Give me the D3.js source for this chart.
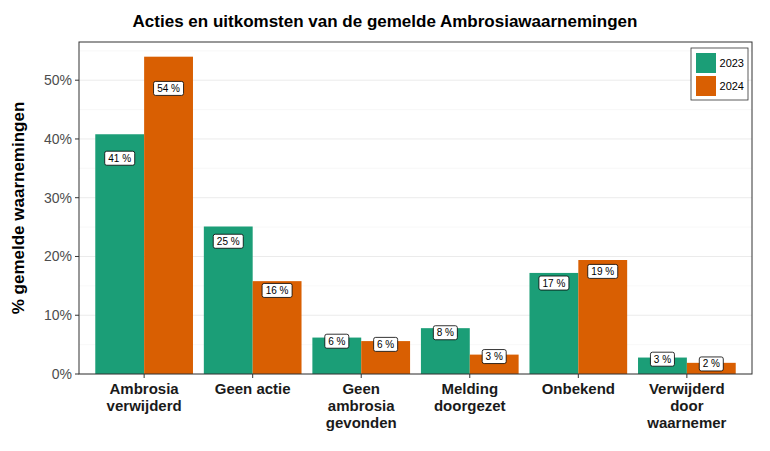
<!DOCTYPE html><html><head><meta charset="utf-8">
<script src="https://cdn.jsdelivr.net/npm/d3@7"></script>
<style>body{margin:0;background:#fff}text{font-family:Arial,"Liberation Sans",sans-serif}</style></head><body>
<svg id="c" width="770" height="451"></svg>
<script>
const categories=[["Ambrosia","verwijderd"],["Geen actie"],["Geen","ambrosia","gevonden"],["Melding","doorgezet"],["Onbekend"],["Verwijderd","door","waarnemer"]];
const years=["2023","2024"];
const v2023=[40.8,25.1,6.2,7.8,17.2,2.8];
const v2024=[54.0,15.8,5.6,3.3,19.4,1.9];
const labels2023=["41 %","25 %","6 %","8 %","17 %","3 %"];
const labels2024=["54 %","16 %","6 %","3 %","19 %","2 %"];
const yTicks=[0,10,20,30,40,50];
const colors=["#1b9e77","#d95f02"];
const svg=d3.select("#c");
const L=79,R=752,T=42,B=374;
const y=d3.scaleLinear().domain([0,56.5]).range([B,T]);
const unit=(R-L)/6.2;
const xc=i=>L+unit*(0.6+i);
svg.append("rect").attr("x",L).attr("y",T).attr("width",R-L).attr("height",B-T).attr("fill","#fff");
yTicks.forEach(t=>{svg.append("line").attr("x1",L).attr("x2",R).attr("y1",y(t)).attr("y2",y(t)).attr("stroke","#ebebeb").attr("stroke-width",1);
 svg.append("line").attr("x1",L).attr("x2",R).attr("y1",y(t+5)).attr("y2",y(t+5)).attr("stroke","#f4f4f4").attr("stroke-width",0.6);});
const series=[v2023,v2024],labs=[labels2023,labels2024];
const bw=unit*0.45;
series.forEach((s,k)=>s.forEach((v,i)=>{
 const x0=xc(i)-bw+k*bw;
 svg.append("rect").attr("x",x0).attr("y",y(v)).attr("width",bw).attr("height",B-y(v)).attr("fill",colors[k]);
}));
series.forEach((s,k)=>s.forEach((v,i)=>{
 const cx=xc(i)-bw/2+k*bw,cy=y(v*0.9);
 const t=labs[k][i],w=t.length*6+6;
 svg.append("rect").attr("x",cx-w/2).attr("y",cy-7).attr("width",w).attr("height",14).attr("rx",2).attr("fill","#fff").attr("stroke","#000").attr("stroke-width",0.8);
 svg.append("text").attr("x",cx).attr("y",cy+3.5).attr("text-anchor","middle").attr("font-size",10).text(t);
}));
svg.append("rect").attr("x",L).attr("y",T).attr("width",R-L).attr("height",B-T).attr("fill","none").attr("stroke","#333").attr("stroke-width",1);
yTicks.forEach(t=>{svg.append("line").attr("x1",L-4).attr("x2",L).attr("y1",y(t)).attr("y2",y(t)).attr("stroke","#333");
 svg.append("text").attr("x",L-7).attr("y",y(t)+5).attr("text-anchor","end").attr("font-size",14).attr("fill","#4d4d4d").text(t+"%");});
categories.forEach((c,i)=>{svg.append("line").attr("x1",xc(i)).attr("x2",xc(i)).attr("y1",B).attr("y2",B+4).attr("stroke","#333");
 c.forEach((l,j)=>svg.append("text").attr("x",xc(i)).attr("y",B+20+j*17).attr("text-anchor","middle").attr("font-size",15).attr("font-weight","bold").attr("fill","#1a1a1a").text(l));});
svg.append("text").attr("x",385).attr("y",27).attr("text-anchor","middle").attr("font-size",17).attr("font-weight","bold").text("Acties en uitkomsten van de gemelde Ambrosiawaarnemingen");
svg.append("text").attr("transform",`translate(24,${(T+B)/2}) rotate(-90)`).attr("text-anchor","middle").attr("font-size",17).attr("font-weight","bold").text("% gemelde waarnemingen");
const lg=svg.append("g");
lg.append("rect").attr("x",691).attr("y",48).attr("width",57).attr("height",52).attr("fill","#fff").attr("stroke","#333").attr("stroke-width",0.8);
years.forEach((yr,k)=>{lg.append("rect").attr("x",696).attr("y",53+k*23).attr("width",20).attr("height",20).attr("fill",colors[k]);
 lg.append("text").attr("x",744).attr("y",67+k*23).attr("text-anchor","end").attr("font-size",11).text(yr);});
</script></body></html>
